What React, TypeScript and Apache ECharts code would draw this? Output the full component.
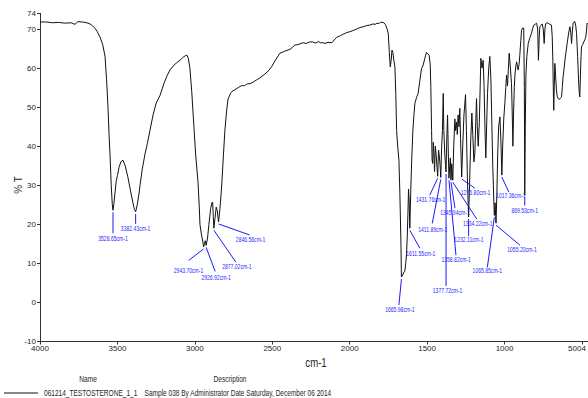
import React, { useEffect, useRef } from "react";
import * as echarts from "echarts";

const FONT = "'Liberation Sans', Arial, sans-serif";

// Spectrum (wavenumber cm-1, %T)
const wavenumbers = [
  4000, 3960, 3920, 3880, 3840, 3800, 3774, 3755, 3730, 3709, 3690, 3677, 3660, 3645, 3630, 3613, 3595, 3580, 3570, 3561,
  3554, 3548, 3540, 3533, 3528.65, 3522, 3516, 3508, 3500, 3490, 3478, 3464, 3450, 3432, 3415, 3400, 3390, 3382.43, 3372, 3360,
  3354, 3340, 3322, 3305, 3290, 3270, 3250, 3225, 3200, 3180, 3161, 3140, 3120, 3096, 3075, 3060, 3051, 3042, 3032, 3020,
  3006, 2995, 2980, 2972, 2967, 2958, 2948, 2943.7, 2938, 2933, 2926.92, 2918, 2909, 2898, 2890, 2885, 2881, 2877.02, 2870, 2862,
  2855, 2850, 2846.56, 2838, 2830, 2825, 2815, 2806, 2795, 2786, 2770, 2761, 2740, 2720, 2700, 2680, 2660, 2644, 2620, 2600,
  2580, 2547, 2520, 2502, 2480, 2451, 2420, 2386, 2370, 2354, 2335, 2321, 2300, 2280, 2260, 2238, 2220, 2200, 2190, 2173,
  2160, 2140, 2115, 2100, 2083, 2060, 2040, 2018, 2000, 1980, 1960, 1934, 1910, 1890, 1870, 1850, 1835, 1824, 1810, 1800,
  1792, 1780, 1770, 1760, 1751, 1744, 1738, 1732, 1727, 1721, 1715, 1708, 1702, 1697, 1690, 1682, 1676, 1669, 1665.98, 1658,
  1650, 1644, 1638, 1633, 1628, 1624, 1620, 1616, 1611.55, 1606, 1600, 1592, 1585, 1579, 1568, 1558, 1548, 1536, 1525, 1515,
  1504, 1495, 1487, 1480, 1476, 1471, 1468, 1464, 1460, 1456, 1452, 1447, 1442, 1436, 1431.76, 1426, 1420, 1416, 1411.89, 1406,
  1401, 1396, 1392, 1386, 1381, 1377.72, 1373, 1368, 1363, 1358.82, 1354, 1350, 1345.94, 1341, 1334.22, 1328, 1321, 1316, 1310, 1305,
  1300, 1294, 1289, 1284, 1276.8, 1270, 1262, 1252, 1246, 1240, 1232.11, 1226, 1218, 1211, 1205, 1198, 1192, 1186, 1181, 1176,
  1170, 1163, 1153, 1145, 1138, 1132, 1126, 1121, 1115, 1110, 1102, 1095, 1088, 1082, 1076, 1070, 1065.85, 1061, 1055.2, 1050,
  1044, 1038, 1030, 1024, 1017.36, 1012, 1005, 998, 992, 987, 981, 975, 970, 964, 955, 950, 946, 942, 937, 933,
  927, 922, 917, 912, 906, 901, 895, 890, 882, 876, 872, 869.53, 866, 862, 856, 847, 836, 826, 818, 811,
  800, 793, 786, 781, 776, 772, 764, 757, 750, 744, 739, 735, 728, 719, 708, 697, 692, 688, 684, 682,
  679, 675, 670, 665, 660, 654, 645, 638, 632, 627, 622, 615, 610, 604, 595, 586, 578, 572, 567, 562,
  557, 551, 546, 540, 535, 528, 522, 518, 514, 510, 506, 503, 496, 488, 481, 475, 470, 467, 460, 455,
];
const transmittance = [
  71.8, 71.8, 71.6, 71.7, 71.5, 71.6, 71.2, 71.9, 71.8, 71.7, 71.5, 71.3, 70.8, 70.2, 69.3, 68, 66, 63, 57, 50,
  43, 38, 30, 25, 23.6, 25.5, 28, 31, 32.5, 34.5, 36, 36.4, 35, 32, 28.5, 25.5, 23.8, 23.2, 25, 28,
  30, 34, 38, 41, 44, 48, 51, 53, 56, 58, 59.5, 60.5, 61.3, 62, 62.8, 63.2, 63.3, 62.5, 60, 54,
  45, 38, 31, 25, 20, 17.5, 15.5, 14.2, 15, 15.8, 14.6, 16.5, 20, 24, 25.5, 25.7, 22, 19, 21.5, 24.4,
  23.5, 21.5, 20.6, 24, 28, 31, 38, 44, 49, 52, 53.5, 54, 54.5, 55, 55.5, 55.5, 56, 56, 56.5, 57,
  57.5, 58.5, 59.5, 60.5, 62, 63.8, 64.3, 64.8, 65.3, 65.9, 66, 66.2, 66.5, 66.3, 66.7, 66.7, 66.4, 66.8, 66.5, 66.5,
  66.3, 66.6, 66.5, 67.2, 67.9, 68.3, 68.7, 69.1, 69.3, 69.6, 69.9, 70.4, 70.6, 70.9, 71, 71.3, 71.2, 71.5, 71.4, 71.8,
  71.7, 71.6, 71.2, 70.2, 68.9, 64, 60.3, 62, 64.6, 64, 62, 60.3, 53, 44, 40, 36.4, 28, 15, 6.5, 7,
  7.8, 8, 10, 12.5, 17, 22.7, 29, 26, 19, 28, 36, 44, 48, 51, 52.5, 53.5, 56.5, 59.9, 60.8, 62.5,
  64, 63.6, 63.3, 61, 55, 44, 36.5, 35.6, 41, 38, 33.5, 40, 38, 34.5, 32.3, 39, 37, 35, 32, 40,
  44, 53.5, 44, 38, 35, 33.4, 42, 48, 38, 31.8, 35, 37, 31.3, 35.5, 31.3, 40, 47, 44, 46.2, 43,
  48, 45, 49.7, 42, 32.1, 40, 48, 53.2, 44, 32, 21.9, 30, 42, 48.5, 43, 36, 38, 46, 52.2, 45,
  40, 46, 62.5, 60, 62, 55, 44, 37, 46, 53.5, 60, 63, 57, 46, 35, 27, 22.3, 25.5, 20.3, 27,
  38, 45, 47.5, 42, 32.6, 40, 47, 51, 55, 58.2, 55.4, 60, 63.8, 61, 56, 48, 40, 48, 55, 58.2,
  60.5, 61.6, 60.5, 59.5, 61, 63.5, 67, 69.7, 70.3, 70.2, 55, 27.4, 45, 58, 63, 66.3, 67.8, 68.9, 70.2, 71,
  71.3, 71.5, 70, 62, 68, 70.6, 71, 71.3, 70, 66.3, 70, 71.3, 71.6, 71.5, 71.2, 71, 68, 62, 52, 49.2,
  55, 61.2, 58, 54.4, 52.8, 52.2, 52, 52.4, 52.6, 55, 57.8, 60, 62, 63.8, 66.5, 69, 70.6, 69, 66.3, 69.5,
  71.5, 71.8, 71.9, 70.8, 68.9, 63, 57, 54, 52.6, 58, 63, 65.5, 66, 66.7, 67.3, 68, 70, 71.5, 71.2, 71.3,
];

const xTickValues = [4000, 3500, 3000, 2500, 2000, 1500, 1000, 500];
const yTickValues = [-10, 0, 10, 20, 30, 40, 50, 60, 70, 74];

// Picked peaks
const peakWavenumbers = [3528.65, 3382.43, 2943.7, 2926.92, 2877.02, 2846.56, 1665.98, 1611.55, 1431.76, 1411.89,
  1377.72, 1358.82, 1345.94, 1334.22, 1276.8, 1232.11, 1065.85, 1055.2, 1017.36, 869.53];
const peakTransmittance = [23.6, 23.2, 14.2, 14.6, 19, 20.6, 6.5, 19, 32.3, 32,
  33.4, 31.8, 31.3, 31.3, 32.1, 21.9, 22.3, 20.3, 32.6, 27.4];
const peakLabels = peakWavenumbers.map((w) => w.toFixed(2) + "cm-1");

// Label layout (pixel offsets from the peak point): leader-line end, text centre
const leaderEnds = [
  [0, 23], [0, 12], [-15, 13.5], [9, 26], [22, 34], [31, 13], [-2.5, 28], [10, 20], [-8, 19], [-8.5, 46],
  [0, 114], [7, 77], [4, 28], [24, 39], [13, 11], [0, 19], [-7, 52], [24, 22], [7, 17], [0, 10],
];
const textOffsets = [
  [0, 29], [0, 17], [-15, 23.5], [10, 32], [23, 39], [32, 18], [-1.5, 33], [11, 25.7], [-7, 23.5], [-8, 52.3],
  [1.5, 119], [7.2, 81.3], [4, 32.7], [25, 43.3], [14, 15.6], [0.3, 23.3], [-7, 55.7], [26, 27], [9, 20.7], [0, 15],
];

const seriesName = "061214_TESTOSTERONE_1_1";
const seriesDescription = "Sample 038 By Administrator Date Saturday, December 06 2014";

export default function App() {
  const ref = useRef<HTMLDivElement>(null);
  useEffect(() => {
    if (!ref.current) return;
    const chart = echarts.init(ref.current, null, { renderer: "svg" });
    const spectrum = wavenumbers.map((w, i) => [w, transmittance[i]]);
    const peaks = peakWavenumbers.map((w, i) => [w, peakTransmittance[i], i]);
    const narrow = (x: number, y: number, text: string, size: number, sx: number, align = "center", rot = 0) => ({
      type: "text",
      x,
      y,
      rotation: rot,
      scaleX: sx,
      style: { text, font: `${size}px ${FONT}`, fill: "#1e1e1e", align, verticalAlign: "middle" },
    });
    chart.setOption({
      animation: false,
      backgroundColor: "#fff",
      grid: { left: 40, right: 0, top: 13.4, bottom: 56.5, containLabel: false, outerBoundsMode: "none" },
      xAxis: {
        type: "value",
        inverse: true,
        min: 461,
        max: 4000,
        axisLine: { show: true, onZero: false, lineStyle: { color: "#333", width: 1 } },
        axisTick: { show: true, length: 3, customValues: xTickValues, lineStyle: { color: "#333" } },
        axisLabel: {
          customValues: xTickValues,
          formatter: (v: number) => (v === 500 ? "{e|5004}" : String(v)),
          rich: { e: { fontSize: 8, color: "#1e1e1e", fontFamily: FONT, padding: [0, 10, 0, 0] } },
          fontSize: 8,
          color: "#1e1e1e",
          margin: 3,
          fontFamily: FONT,
        },
        splitLine: { show: false },
      },
      yAxis: {
        type: "value",
        min: -10,
        max: 74,
        axisLine: { show: true, lineStyle: { color: "#333", width: 1 } },
        axisTick: { show: true, length: 3, customValues: yTickValues, lineStyle: { color: "#333" } },
        axisLabel: { customValues: yTickValues, fontSize: 8, color: "#1e1e1e", margin: 4, fontFamily: FONT },
        splitLine: { show: false },
      },
      graphic: [
        narrow(18, 185, "% T", 11, 0.9, "center", Math.PI / 2),
        narrow(316, 363, "cm-1", 12, 0.8),
        narrow(88, 379, "Name", 8.5, 0.78),
        narrow(230, 379, "Description", 8.5, 0.78),
        { type: "line", shape: { x1: 4, y1: 393, x2: 38, y2: 393 }, style: { stroke: "#111", lineWidth: 1 } },
        narrow(44, 393, seriesName + "    " + seriesDescription, 8.5, 0.77, "left"),
      ],
      series: [
        {
          name: seriesName,
          type: "line",
          data: spectrum,
          showSymbol: false,
          symbol: "none",
          lineStyle: { color: "#111", width: 1 },
          itemStyle: { color: "#111" },
          z: 2,
        },
        {
          type: "custom",
          data: peaks,
          silent: true,
          clip: false,
          z: 3,
          renderItem: (params: any, api: any) => {
            const i = api.value(2);
            const p = api.coord([api.value(0), api.value(1)]);
            const le = leaderEnds[i];
            const to = textOffsets[i];
            return {
              type: "group",
              children: [
                { type: "line", shape: { x1: p[0], y1: p[1] + 2, x2: p[0] + le[0], y2: p[1] + le[1] }, style: { stroke: "#1a1aff", lineWidth: 1 } },
                { type: "text", x: p[0] + to[0], y: p[1] + to[1], scaleX: 0.78, style: { text: peakLabels[i], font: `6.5px ${FONT}`, fill: "#2b2bff", align: "center", verticalAlign: "middle" } },
              ],
            };
          },
        },
      ],
    });
    return () => chart.dispose();
  }, []);
  return <div ref={ref} style={{ position: "fixed", left: 0, top: 0, width: 588, height: 398, background: "#fff" }} />;
}
